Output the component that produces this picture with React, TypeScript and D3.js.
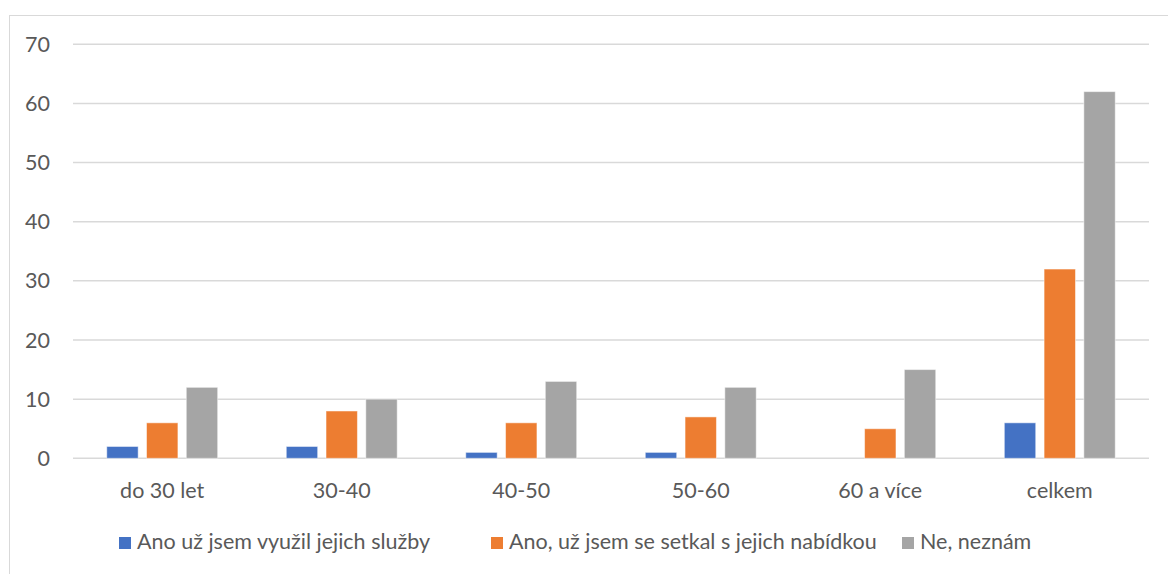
import React from "react";
import * as d3 from "d3";

const categories = ["do 30 let", "30-40", "40-50", "50-60", "60 a více", "celkem"];
const seriesNames = [
  "Ano už jsem využil jejich služby",
  "Ano, už jsem se setkal s jejich nabídkou",
  "Ne, neznám",
];
const seriesA = [2, 2, 1, 1, 0, 6];
const seriesB = [6, 8, 6, 7, 5, 32];
const seriesC = [12, 10, 13, 12, 15, 62];
const yTicks = [0, 10, 20, 30, 40, 50, 60, 70];
const colors = ["#4472C4", "#ED7D31", "#A5A5A5"];

const W = 1168;
const H = 574;
const FONT = "Lato, 'Open Sans', sans-serif";
const FS = 21.5;

export default function App() {
  const series = [seriesA, seriesB, seriesC];
  const x0 = d3.scaleBand<string>().domain(categories).range([73, 1149]).paddingInner(0.382).paddingOuter(0.188);
  const x1 = d3.scaleBand<number>().domain([0, 1, 2]).range([0, x0.bandwidth()]).paddingInner(0.21);
  const y = d3.scaleLinear().domain([0, 70]).range([458.3, 44.3]);
  const legendX = [119, 491, 902];

  return (
    <svg width={W} height={H} style={{ position: "absolute", left: 0, top: 0, background: "#fff" }} fontFamily={FONT}>
      <rect x={9.5} y={15.5} width={1170} height={600} fill="#fff" stroke="#D9D9D9" strokeWidth={1} />
      {yTicks.map((t) => (
        <g key={t}>
          <line x1={73} x2={1149} y1={y(t)} y2={y(t)} stroke="#D9D9D9" strokeWidth={1.5} />
          <text x={50} y={y(t)} dy="0.35em" textAnchor="end" fontSize={FS} fill="#595959">
            {t}
          </text>
        </g>
      ))}
      {categories.map((c, i) => (
        <g key={c} transform={`translate(${x0(c)},0)`}>
          {series.map((s, k) => (
            <rect
              key={k}
              x={x1(k)}
              y={y(s[i])}
              width={x1.bandwidth()}
              height={y(0) - y(s[i])}
              fill={colors[k]}
              stroke="#ffffff"
              strokeOpacity={0.5}
              strokeWidth={1}
            />
          ))}
          <text x={x0.bandwidth() / 2} y={498} textAnchor="middle" fontSize={FS} fill="#595959">
            {c}
          </text>
        </g>
      ))}
      {seriesNames.map((n, k) => (
        <g key={n} transform={`translate(${legendX[k]},0)`}>
          <rect x={0} y={537} width={12} height={12} fill={colors[k]} />
          <text x={18} y={549} fontSize={FS} fill="#595959">
            {n}
          </text>
        </g>
      ))}
    </svg>
  );
}
